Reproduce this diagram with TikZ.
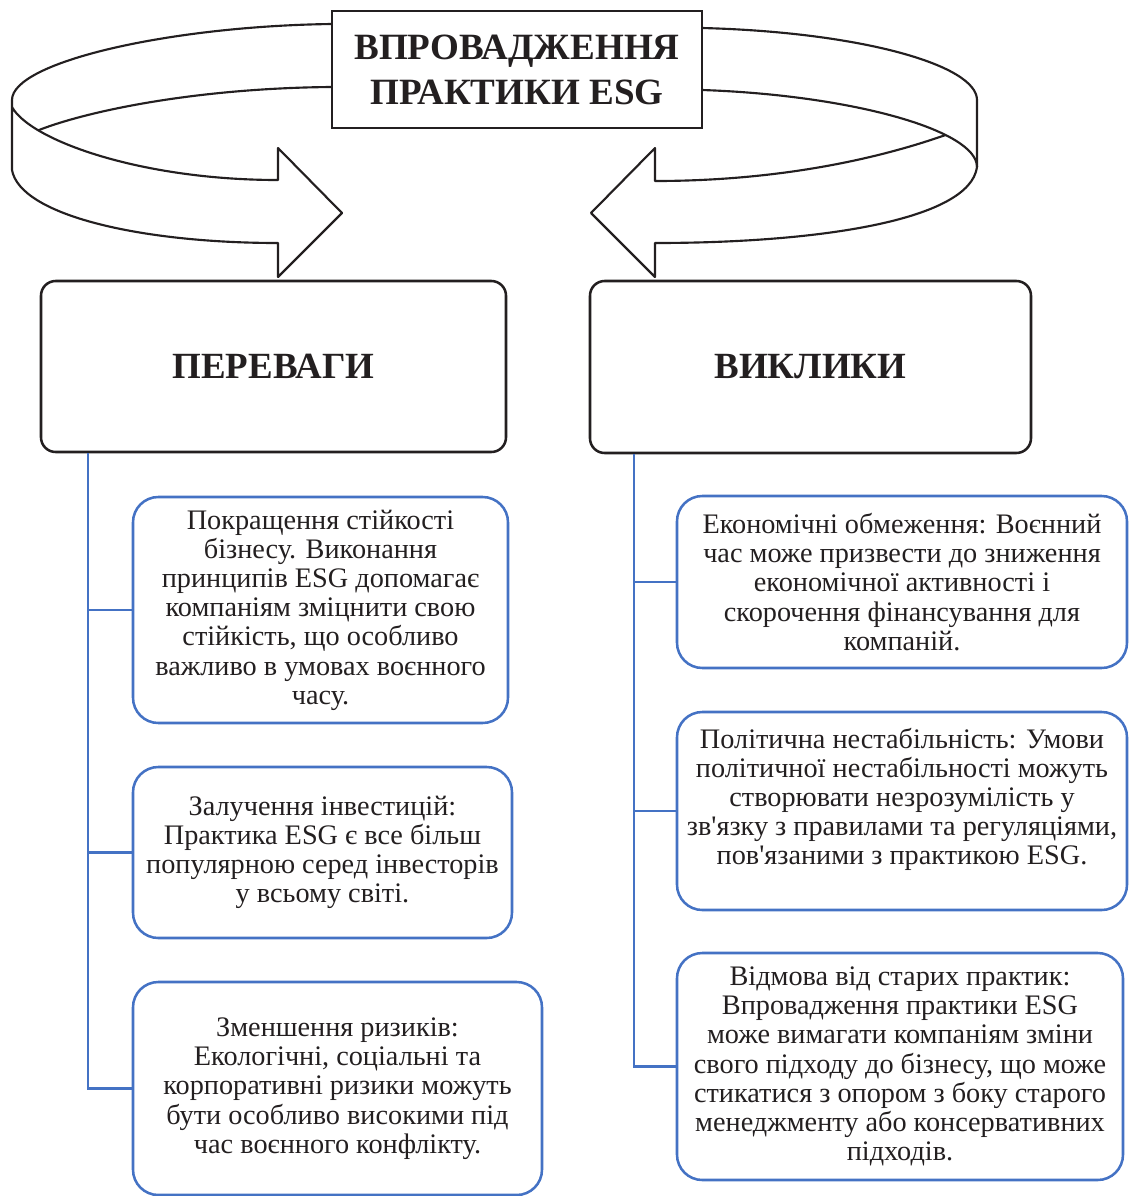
\documentclass[tikz,border=0pt]{standalone}
\usepackage{fontspec}
\setmainfont{Liberation Serif}[Ligatures=TeXOff]
\definecolor{ink}{HTML}{231F20}
\definecolor{bl}{HTML}{4472C4}
\begin{document}
\begin{tikzpicture}[x=0.75pt,y=-0.75pt,
  rib/.style={draw=ink,line width=1.6pt,line join=round},
  titlebox/.style={draw=ink,line width=0.9pt,fill=white,text=ink,align=center,
    minimum width=370*0.75pt,minimum height=117*0.75pt,inner sep=0pt,
    font=\bfseries\fontsize{27.8pt}{33.75pt}\selectfont},
  headbox/.style={draw=ink,line width=1.9pt,rounded corners=11pt,text=ink,align=center,
    inner sep=0pt,font=\bfseries\fontsize{27.7pt}{32pt}\selectfont},
  itembox/.style={draw=bl,line width=1.9pt,rounded corners=19pt,text=ink,align=center,
    inner sep=0pt,font=\fontsize{21.2pt}{21.9pt}\selectfont},
  sz/.style 2 args={minimum width=#1*0.75pt,minimum height=#2*0.75pt},
  conn/.style={draw=bl,line width=2.2pt}]
\useasboundingbox (0,0) rectangle (1129,1196);

% ribbons
\path (12,107) .. controls (30,140) and (140,180) .. (278,180) coordinate[pos=0.23] (ml);
\draw[rib] (332,87) .. controls (200,88) and (90,110) .. (ml);
\draw[rib] (332,24) .. controls (170,26) and (12,62) .. (12,100) -- (12,170)
  .. controls (20,215) and (140,243) .. (278,243) -- (278,277) -- (342,213) -- (278,148) -- (278,180)
  .. controls (140,180) and (30,140) .. (12,107);

\draw[rib] (702,90) .. controls (850,95) and (977,130) .. (977,167) coordinate[pos=0.7] (mr);
\draw[rib] (702,28) .. controls (860,32) and (977,65) .. (977,100) -- (977,167)
  .. controls (970,220) and (820,243) .. (655,243) -- (655,277) -- (591,213) -- (655,148) -- (655,181)
  .. controls (760,181) and (860,165) .. (mr);

\node[titlebox] (title) at (517,69.5) {ВПРОВАДЖЕННЯ\\ПРАКТИКИ ESG};

\node[headbox,sz={465}{171}] (per) at (273.5,366.5) {ПЕРЕВАГИ};
\node[headbox,sz={441}{172}] (vyk) at (810.5,367) {ВИКЛИКИ};

\node[itembox,sz={375}{226}] (L1) at (320.5,610) {Покращення стійкості\\бізнесу. Виконання\\принципів ESG допомагає\\компаніям зміцнити свою\\стійкість, що особливо\\важливо в умовах воєнного\\часу.};
\node[itembox,sz={379}{171}] (L2) at (322.5,852.5) {Залучення інвестицій:\\Практика ESG є все більш\\популярною серед інвесторів\\у всьому світі.};
\node[itembox,sz={409}{213}] (L3) at (337.5,1088.5) {Зменшення ризиків:\\Екологічні, соціальні та\\корпоративні ризики можуть\\бути особливо високими під\\час воєнного конфлікту.};

\node[itembox,sz={450}{172}] (R1) at (902,582) {Економічні обмеження: Воєнний\\час може призвести до зниження\\економічної активності і\\скорочення фінансування для\\компаній.};
\node[itembox,sz={450}{198}] (R2) at (902,811) {Політична нестабільність: Умови\\політичної нестабільності можуть\\створювати незрозумілість у\\зв'язку з правилами та регуляціями,\\пов'язаними з практикою ESG.\\\mbox{}};
\node[itembox,sz={446}{227}] (R3) at (900,1066.5) {Відмова від старих практик:\\Впровадження практики ESG\\може вимагати компаніям зміни\\свого підходу до бізнесу, що може\\стикатися з опором з боку старого\\менеджменту або консервативних\\підходів.};

% connectors
\coordinate (tL) at (88,0);
\coordinate (tR) at (634,0);
\draw[conn] (per.south -| tL) |- (L3.west);
\draw[conn] (tL |- L1.west) -- (L1.west);
\draw[conn] (tL |- L2.west) -- (L2.west);
\draw[conn] (vyk.south -| tR) |- (R3.west);
\draw[conn] (tR |- R1.west) -- (R1.west);
\draw[conn] (tR |- R2.west) -- (R2.west);
\end{tikzpicture}
\end{document}
